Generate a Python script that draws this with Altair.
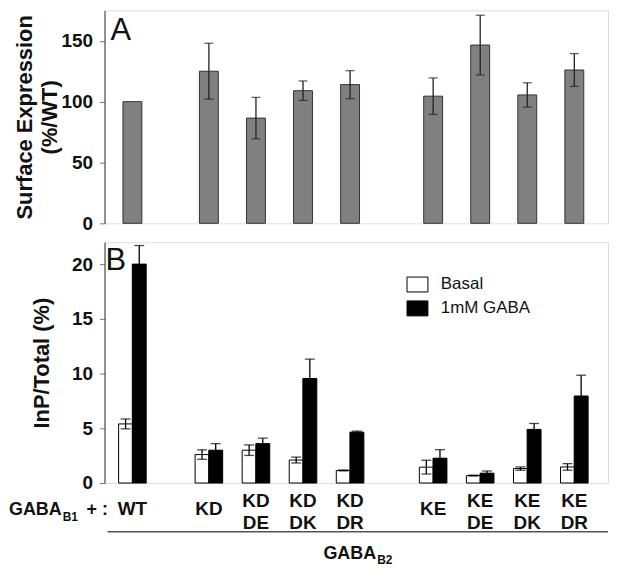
import altair as alt
import pandas as pd

FONT = "Liberation Sans"

# ---------------- data ----------------
groups = ["WT", "KD", "KD DE", "KD DK", "KD DR", "KE", "KE DE", "KE DK", "KE DR"]
label_top = ["WT", "KD", "KD", "KD", "KD", "KE", "KE", "KE", "KE"]
label_bottom = ["", "", "DE", "DK", "DR", "", "DE", "DK", "DR"]

surface_mean = [100, 125, 86.5, 109, 114, 104.5, 146.5, 105.5, 126]
surface_err = [0, 23, 17, 8, 11.5, 15, 24.5, 10, 13.5]

conditions = ["Basal", "1mM GABA"]
basal_mean = [5.4, 2.6, 3.0, 2.1, 1.15, 1.45, 0.68, 1.32, 1.47]
basal_err = [0.45, 0.43, 0.48, 0.27, 0.04, 0.63, 0.04, 0.15, 0.3]
gaba_mean = [20.0, 3.0, 3.6, 9.55, 4.65, 2.27, 0.9, 4.9, 7.95]
gaba_err = [1.7, 0.6, 0.5, 1.77, 0.1, 0.78, 0.2, 0.54, 1.9]

# ---------------- layout (slot positions with group gaps) ----------------
gap_after = {0: 0.625, 4: 0.765}
pos = []
p = 0.0
for i in range(len(groups)):
    pos.append(p)
    p += 1 + gap_after.get(i, 0)

W = 506
HA = 214
HB = 242
PAIR = 0.145

dfA = pd.DataFrame({
    "group": groups, "x": pos, "mean": surface_mean, "err": surface_err,
})
dfA["lo"] = dfA["mean"] - dfA["err"]
dfA["hi"] = dfA["mean"] + dfA["err"]

rows = []
for i, g in enumerate(groups):
    rows.append({"group": g, "cond": "Basal", "x": pos[i] - PAIR,
                 "mean": basal_mean[i], "err": basal_err[i]})
    rows.append({"group": g, "cond": "1mM GABA", "x": pos[i] + PAIR,
                 "mean": gaba_mean[i], "err": gaba_err[i]})
dfB = pd.DataFrame(rows)
dfB["lo"] = dfB["mean"] - dfB["err"]
dfB["hi"] = dfB["mean"] + dfB["err"]

dfL = pd.DataFrame({"x": pos, "top": label_top, "bottom": label_bottom})

xscale = alt.Scale(domain=[-0.487, 10.0], nice=False, zero=False)
X = alt.X("x:Q", scale=xscale, axis=None)

common_axis = dict(
    labelFontSize=19, labelFontWeight="bold", labelFont=FONT, labelColor="#111",
    labelPadding=7, tickSize=5, tickColor="#777", domainColor="#333",
    grid=False, titleFont=FONT, titleFontSize=22, titleFontWeight="bold",
    titleColor="#111",
)


def note(txt, x, y, size, weight="bold", align="left", baseline="alphabetic"):
    return alt.Chart(pd.DataFrame({"t": [txt]})).mark_text(
        align=align, baseline=baseline, fontSize=size, fontWeight=weight,
        font=FONT, color="#111"
    ).encode(x=alt.value(x), y=alt.value(y), text="t:N")


# ---------------- panel A ----------------
yA = alt.Scale(domain=[0, 175], nice=False)
axisA = alt.Axis(values=[0, 50, 100, 150],
                 title=["Surface Expression", "(%/WT)"],
                 titleLineHeight=25, titlePadding=0, **common_axis)

a_bars = alt.Chart(dfA).mark_bar(
    orient="vertical", size=19, fill="#808080", stroke="#333", strokeWidth=1
).encode(X, y=alt.Y("mean:Q", scale=yA, axis=axisA))

a_err = alt.Chart(dfA).transform_filter("datum.err > 0").mark_rule(
    color="#222", strokeWidth=1.3
).encode(X, y=alt.Y("lo:Q", scale=yA), y2="hi:Q")

a_caps = alt.Chart(dfA).transform_filter("datum.err > 0").transform_fold(
    ["lo", "hi"], as_=["end", "v"]
).mark_tick(orient="horizontal", size=9, thickness=1.3, color="#222").encode(
    X, y=alt.Y("v:Q", scale=yA)
)

panelA = alt.layer(
    a_bars, a_err, a_caps,
    note("A", 6, 30, 31, weight="normal"),
    note(" ", -96, 100, 18),
).properties(width=W, height=HA)

# ---------------- panel B ----------------
yB = alt.Scale(domain=[0, 22], nice=False)
axisB = alt.Axis(values=[0, 5, 10, 15, 20], title="InP/Total (%)",
                 titlePadding=18, **common_axis)

b_bars = alt.Chart(dfB).mark_bar(
    orient="vertical", size=14, stroke="black", strokeWidth=1
).encode(
    X,
    y=alt.Y("mean:Q", scale=yB, axis=axisB, stack=None),
    fill=alt.Fill(
        "cond:N",
        scale=alt.Scale(domain=conditions, range=["white", "black"]),
        legend=alt.Legend(
            orient="none", legendX=306, legendY=34, title=None,
            symbolType="M-1.4,-1L1.4,-1L1.4,1L-1.4,1Z", symbolSize=225,
            symbolStrokeColor="black", symbolStrokeWidth=1,
            labelFontSize=17, labelFont=FONT, labelColor="#111",
            labelOffset=15, rowPadding=5, padding=0,
        ),
    ),
)

b_err = alt.Chart(dfB).mark_rule(color="black", strokeWidth=1.3).encode(
    X, y=alt.Y("lo:Q", scale=yB), y2="hi:Q"
)

b_caps = alt.Chart(dfB).transform_fold(["lo", "hi"], as_=["end", "v"]).mark_tick(
    orient="horizontal", size=10, thickness=1.3, color="black"
).encode(X, y=alt.Y("v:Q", scale=yB))

lab_style = dict(fontSize=19, fontWeight="bold", font=FONT, color="#111",
                 align="center", baseline="middle")
lab_single = alt.Chart(dfL).transform_filter("datum.bottom == ''").mark_text(
    **lab_style).encode(X, y=alt.value(HB + 26), text="top:N")
lab_l1 = alt.Chart(dfL).transform_filter("datum.bottom != ''").mark_text(
    **lab_style).encode(X, y=alt.value(HB + 18), text="top:N")
lab_l2 = alt.Chart(dfL).transform_filter("datum.bottom != ''").mark_text(
    **lab_style).encode(X, y=alt.value(HB + 40), text="bottom:N")

under_rule = alt.Chart(pd.DataFrame({"a": [0]})).mark_rule(
    color="#555", strokeWidth=1.5
).encode(x=alt.value(3), x2=alt.value(W), y=alt.value(HB + 49))

panelB = alt.layer(
    b_bars, b_err, b_caps,
    lab_single, lab_l1, lab_l2, under_rule,
    note("B", 1, 28, 31, weight="normal"),
    note("GABA", -96, HB + 32, 18),
    note("B1", -42, HB + 38, 12),
    note("+ :", -18, HB + 32, 18),
    note("GABA", 220, HB + 76, 18),
    note("B2", 274, HB + 81, 12),
).properties(width=W, height=HB)

chart = alt.vconcat(panelA, panelB, spacing=7).resolve_scale(
    x="independent", y="independent"
).resolve_legend(fill="independent").properties(padding=0).configure_view(
    stroke="#333", strokeWidth=1
).configure(font=FONT)

chart.save("out.html", embed_options={"renderer": "svg", "actions": False})
